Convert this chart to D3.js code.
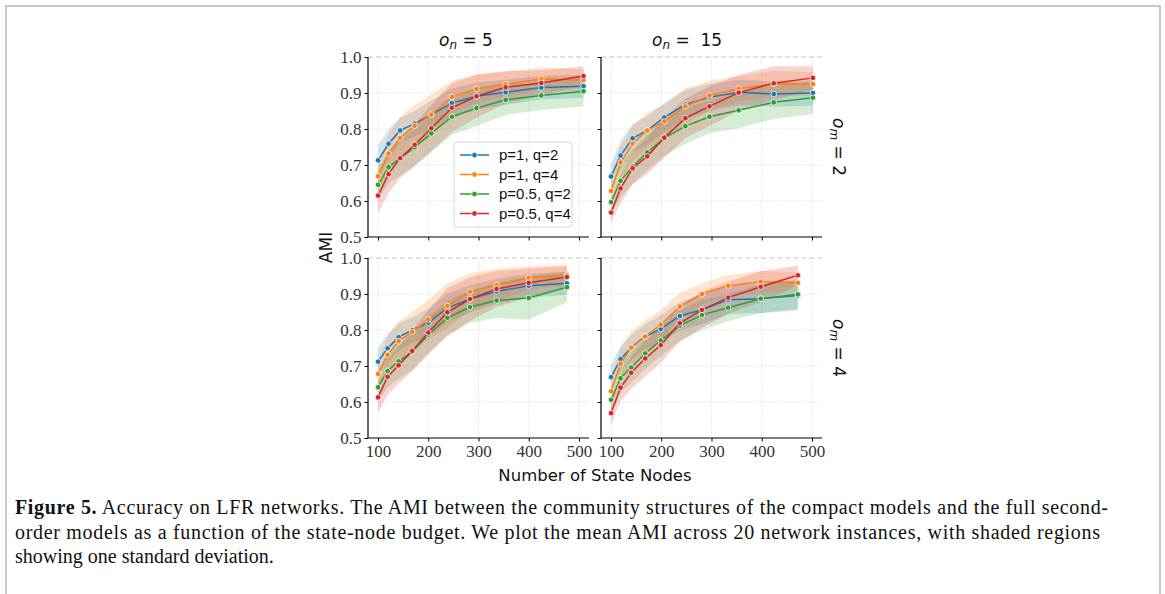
<!DOCTYPE html>
<html>
<head>
<meta charset="utf-8">
<script src="https://cdn.jsdelivr.net/npm/d3@7"></script>
<style>
  body { margin: 0; background: #fff; }
  svg { display: block; }
  text { white-space: pre; }
</style>
</head>
<body>
<div class="chart"></div>
<script>
// AMI vs number of state nodes, 2x2 grid (o_n columns, o_m rows)

// series: p=1,q=2 / p=1,q=4 / p=0.5,q=2 / p=0.5,q=4
var seriesNames = ["p=1, q=2", "p=1, q=4", "p=0.5, q=2", "p=0.5, q=4"];
var colors = ["#1f77b4", "#ff7f0e", "#2ca02c", "#d62728"];

var colTitles = ["5", " 15"];
var rowTitles = ["2", "4"];
var xTicks = [100, 200, 300, 400, 500];
var yTicks = [0.5, 0.6, 0.7, 0.8, 0.9, 1.0];

// o_n = 5, o_m = 2
var xA = [100, 121, 144, 173, 206, 247, 296, 354, 425, 509];
var meanA = [
  [0.713, 0.759, 0.796, 0.815, 0.840, 0.872, 0.891, 0.902, 0.915, 0.919],
  [0.669, 0.732, 0.775, 0.809, 0.840, 0.889, 0.912, 0.924, 0.939, 0.936],
  [0.645, 0.694, 0.719, 0.749, 0.788, 0.834, 0.858, 0.881, 0.893, 0.905],
  [0.615, 0.675, 0.719, 0.756, 0.802, 0.859, 0.891, 0.916, 0.928, 0.947]
];
var sdA = [
  [0.042, 0.040, 0.035, 0.035, 0.040, 0.040, 0.038, 0.035, 0.033, 0.032],
  [0.040, 0.050, 0.058, 0.058, 0.055, 0.045, 0.040, 0.035, 0.032, 0.030],
  [0.040, 0.045, 0.048, 0.050, 0.050, 0.050, 0.050, 0.042, 0.040, 0.042],
  [0.048, 0.053, 0.055, 0.060, 0.065, 0.068, 0.060, 0.045, 0.035, 0.027]
];

// o_n = 15, o_m = 2
var xB = [100, 119, 143, 172, 206, 248, 296, 354, 424, 502];
var meanB = [
  [0.668, 0.726, 0.774, 0.796, 0.832, 0.868, 0.888, 0.902, 0.897, 0.900],
  [0.628, 0.707, 0.759, 0.796, 0.821, 0.863, 0.893, 0.912, 0.926, 0.925],
  [0.597, 0.656, 0.696, 0.735, 0.775, 0.808, 0.834, 0.852, 0.874, 0.887],
  [0.568, 0.635, 0.691, 0.724, 0.776, 0.830, 0.863, 0.901, 0.927, 0.942]
];
var sdB = [
  [0.035, 0.040, 0.040, 0.040, 0.040, 0.040, 0.038, 0.035, 0.035, 0.035],
  [0.040, 0.045, 0.050, 0.050, 0.047, 0.050, 0.040, 0.035, 0.035, 0.033],
  [0.035, 0.045, 0.048, 0.050, 0.050, 0.050, 0.045, 0.050, 0.046, 0.045],
  [0.030, 0.040, 0.045, 0.050, 0.055, 0.055, 0.055, 0.050, 0.047, 0.032]
];

// o_n = 5, o_m = 4
var xC = [100, 119, 141, 168, 200, 238, 283, 336, 400, 476];
var meanC = [
  [0.712, 0.749, 0.780, 0.800, 0.820, 0.861, 0.886, 0.907, 0.923, 0.930],
  [0.678, 0.731, 0.769, 0.795, 0.829, 0.867, 0.906, 0.925, 0.945, 0.952],
  [0.641, 0.686, 0.713, 0.739, 0.787, 0.834, 0.864, 0.882, 0.889, 0.919],
  [0.613, 0.670, 0.702, 0.742, 0.793, 0.849, 0.886, 0.914, 0.931, 0.947]
];
var sdC = [
  [0.038, 0.040, 0.038, 0.035, 0.040, 0.040, 0.038, 0.035, 0.033, 0.032],
  [0.040, 0.050, 0.055, 0.055, 0.055, 0.062, 0.052, 0.045, 0.032, 0.030],
  [0.040, 0.045, 0.048, 0.050, 0.050, 0.048, 0.044, 0.049, 0.060, 0.042],
  [0.043, 0.050, 0.050, 0.057, 0.062, 0.067, 0.060, 0.050, 0.040, 0.030]
];

// o_n = 15, o_m = 4
var xD = [100, 119, 140, 168, 199, 237, 281, 333, 398, 472];
var meanD = [
  [0.669, 0.719, 0.751, 0.782, 0.803, 0.839, 0.856, 0.884, 0.887, 0.896],
  [0.630, 0.706, 0.751, 0.782, 0.815, 0.865, 0.900, 0.923, 0.934, 0.931],
  [0.606, 0.666, 0.696, 0.735, 0.771, 0.812, 0.842, 0.862, 0.887, 0.899],
  [0.569, 0.640, 0.681, 0.721, 0.758, 0.819, 0.856, 0.890, 0.920, 0.952]
];
var sdD = [
  [0.035, 0.036, 0.035, 0.035, 0.038, 0.040, 0.040, 0.040, 0.040, 0.042],
  [0.038, 0.045, 0.045, 0.045, 0.040, 0.038, 0.030, 0.030, 0.030, 0.030],
  [0.035, 0.040, 0.042, 0.043, 0.043, 0.043, 0.042, 0.038, 0.040, 0.040],
  [0.032, 0.038, 0.045, 0.050, 0.050, 0.050, 0.050, 0.045, 0.043, 0.027]
];

var svgWidth = 1165;
var svgHeight = 594;

var panels = [
  {x: xA, mean: meanA, sd: sdA, left: 368, top: 57, col: 0, row: 0},
  {x: xB, mean: meanB, sd: sdB, left: 601, top: 57, col: 1, row: 0},
  {x: xC, mean: meanC, sd: sdC, left: 368, top: 258, col: 0, row: 1},
  {x: xD, mean: meanD, sd: sdD, left: 601, top: 258, col: 1, row: 1}
];
var pw = 221, ph = 180;

var svg = d3.select(".chart").append("svg")
  .attr("width", svgWidth)
  .attr("height", svgHeight);

// page frame
svg.append("path")
  .attr("d", "M6,600 L6,6 L1160,6 L1160,600")
  .attr("fill", "none")
  .attr("stroke", "#c8c8c8")
  .attr("stroke-width", 2);

var tickFont = "'Liberation Serif', 'DejaVu Serif', serif";
var sansFont = "'DejaVu Sans', sans-serif";

panels.forEach(function(p) {
  var x = d3.scaleLinear().domain([80, 520]).range([0, pw]);
  var y = d3.scaleLinear().domain([0.5, 1.0]).range([ph, 0]);
  var g = svg.append("g").attr("transform", "translate(" + p.left + "," + p.top + ")");

  // grid
  g.selectAll(".vgrid").data(xTicks).enter().append("line")
    .attr("x1", function(d) { return x(d); })
    .attr("x2", function(d) { return x(d); })
    .attr("y1", 0).attr("y2", ph)
    .attr("stroke", "#dcdcdc").attr("stroke-width", 0.8)
    .attr("stroke-dasharray", "1.5,1.5");
  g.selectAll(".hgrid").data(yTicks.filter(function(d) { return d > 0.5; })).enter().append("line")
    .attr("x1", 0).attr("x2", pw)
    .attr("y1", function(d) { return y(d); })
    .attr("y2", function(d) { return y(d); })
    .attr("stroke", function(d) { return d === 1.0 ? "#c4c4c4" : "#dcdcdc"; })
    .attr("stroke-width", function(d) { return d === 1.0 ? 1.2 : 0.8; })
    .attr("stroke-dasharray", function(d) { return d === 1.0 ? "5,3" : "1.5,1.5"; });

  // bands
  var area = d3.area()
    .x(function(d) { return x(d.x); })
    .y0(function(d) { return y(d.m - d.s); })
    .y1(function(d) { return y(d.m + d.s); });
  var line = d3.line()
    .x(function(d) { return x(d.x); })
    .y(function(d) { return y(d.m); });

  var rows = p.mean.map(function(ms, k) {
    return ms.map(function(m, i) { return {x: p.x[i], m: m, s: p.sd[k][i]}; });
  });

  rows.forEach(function(r, k) {
    g.append("path").attr("d", area(r))
      .attr("fill", colors[k]).attr("fill-opacity", 0.2).attr("stroke", "none");
  });
  rows.forEach(function(r, k) {
    g.append("path").attr("d", line(r))
      .attr("fill", "none").attr("stroke", colors[k]).attr("stroke-width", 1.5);
    g.selectAll(".pt" + k).data(r).enter().append("circle")
      .attr("cx", function(d) { return x(d.x); })
      .attr("cy", function(d) { return y(d.m); })
      .attr("r", 2.8)
      .attr("fill", colors[k])
      .attr("stroke", "#fff").attr("stroke-width", 0.75);
  });

  // axes
  var yAxis = d3.axisLeft(y).tickValues(yTicks).tickSize(3.5).tickPadding(3)
    .tickFormat(p.col === 0 ? d3.format(".1f") : "");
  var xAxis = d3.axisBottom(x).tickValues(xTicks).tickSize(3.5).tickPadding(3)
    .tickFormat(p.row === 1 ? d3.format("d") : "");
  var ya = g.append("g").call(yAxis);
  var xa = g.append("g").attr("transform", "translate(0," + ph + ")").call(xAxis);
  [ya, xa].forEach(function(a) {
    a.select(".domain").attr("stroke", "#000").attr("stroke-width", 1.2);
    a.selectAll(".tick line").attr("stroke", "#000").attr("stroke-width", 1);
    a.selectAll(".tick text")
      .attr("font-family", tickFont).attr("font-size", 17).attr("fill", "#333");
  });
  ya.select(".domain").attr("d", "M0," + ph + "V0");
  xa.select(".domain").attr("d", "M0,0H" + pw);

  // column title
  if (p.row === 0) {
    var t = svg.append("text")
      .attr("x", p.col === 0 ? 439 : 652)
      .attr("y", 46)
      .attr("font-family", sansFont).attr("font-size", 17).attr("fill", "#111");
    t.append("tspan").attr("font-style", "italic").text("o");
    t.append("tspan").attr("font-style", "italic").attr("font-size", 12).attr("dy", 3).text("n");
    t.append("tspan").attr("dy", -3).text(" = " + colTitles[p.col]);
  }
  // row title
  if (p.col === 1) {
    var rt = svg.append("text")
      .attr("transform", "translate(833," + (p.top + ph / 2) + ") rotate(90)")
      .attr("text-anchor", "middle")
      .attr("font-family", sansFont).attr("font-size", 17).attr("fill", "#111");
    rt.append("tspan").attr("font-style", "italic").text("o");
    rt.append("tspan").attr("font-style", "italic").attr("font-size", 12).attr("dy", 3).text("m");
    rt.append("tspan").attr("dy", -3).text(" = " + rowTitles[p.row]);
  }

  // legend in first panel
  if (p.col === 0 && p.row === 0) {
    var lg = svg.append("g").attr("transform", "translate(454,142)");
    lg.append("rect")
      .attr("width", 118).attr("height", 85).attr("rx", 3)
      .attr("fill", "#fff").attr("fill-opacity", 0.8)
      .attr("stroke", "#d8d8d8").attr("stroke-width", 1);
    seriesNames.forEach(function(name, k) {
      var yy = 13 + k * 19.5;
      lg.append("line").attr("x1", 6).attr("x2", 35).attr("y1", yy).attr("y2", yy)
        .attr("stroke", colors[k]).attr("stroke-width", 1.5);
      lg.append("circle").attr("cx", 20.5).attr("cy", yy).attr("r", 2.8)
        .attr("fill", colors[k]).attr("stroke", "#fff").attr("stroke-width", 0.75);
      lg.append("text").attr("x", 45).attr("y", yy + 5)
        .attr("font-family", "'Liberation Sans', Arial, sans-serif").attr("font-size", 15)
        .attr("fill", "#111").text(name);
    });
  }
});

// shared axis labels
svg.append("text")
  .attr("transform", "translate(332,247.5) rotate(-90)")
  .attr("text-anchor", "middle")
  .attr("font-family", sansFont).attr("font-size", 17).attr("fill", "#111")
  .text("AMI");
svg.append("text")
  .attr("x", 595).attr("y", 481)
  .attr("text-anchor", "middle")
  .attr("font-family", sansFont).attr("font-size", 16.5).attr("fill", "#111")
  .text("Number of State Nodes");

// caption
var capFont = "'Liberation Serif', 'DejaVu Serif', serif";
var cap = [
  {b: "Figure 5.", t: " Accuracy on LFR networks. The AMI between the community structures of the compact models and the full second-", w: 1093},
  {b: "", t: "order models as a function of the state-node budget. We plot the mean AMI across 20 network instances, with shaded regions", w: 1085},
  {b: "", t: "showing one standard deviation.", w: null}
];
cap.forEach(function(c, i) {
  var tx = svg.append("text")
    .attr("x", 15).attr("y", 514 + i * 24.5)
    .attr("font-family", capFont).attr("font-size", 20).attr("fill", "#111");
  if (c.w) tx.attr("textLength", c.w).attr("lengthAdjust", "spacing");
  if (c.b) tx.append("tspan").attr("font-weight", "bold").text(c.b);
  tx.append("tspan").text(c.t);
});
</script>
</body>
</html>
